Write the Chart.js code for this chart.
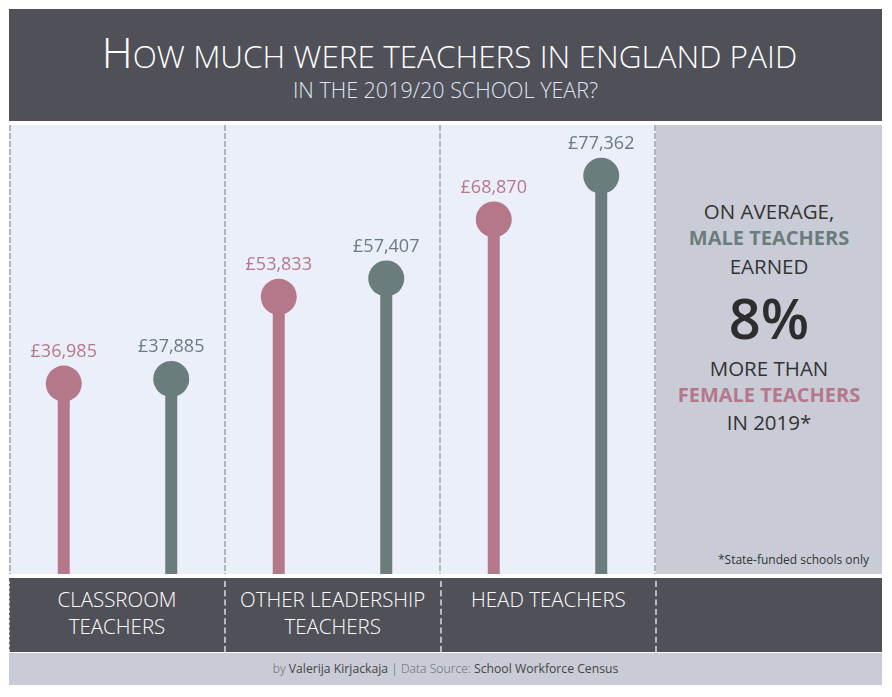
<!DOCTYPE html>
<html>
<head>
  <meta charset="utf-8">
  <title>Teachers pay</title>
  <script src="https://cdn.jsdelivr.net/npm/chart.js@4.4.0/dist/chart.umd.min.js"></script>
  <style>
    body { margin: 0; background: #fff; width: 892px; height: 697px; position: relative; overflow: hidden; }
    .light { font-family: "Open Sans", sans-serif; font-weight: 300; }
    #header { position: absolute; left: 9px; top: 9px; width: 873px; height: 112px; background: #505058; text-align: center; }
    #title { position: absolute; left: 8px; right: 0; top: 21px; color: #fff; font-size: 31.5px; line-height: 44px; }
    #title .big { font-size: 43px; }
    #subtitle { position: absolute; left: 0; right: 0; top: 67px; color: #dfe7f6; font-size: 21.5px; line-height: 28px; }
    #plot { position: absolute; left: 9px; top: 125px; width: 647px; height: 449px; background: #ebeff9; }
    #panel { position: absolute; left: 656px; top: 125px; width: 226px; height: 449px; background: #c9ccd7; text-align: center; font-family: "Open Sans", sans-serif; color: #333; }
    #panel div { position: absolute; left: 0; right: 0; }
    #band { position: absolute; left: 9px; top: 578px; width: 873px; height: 74px; background: #505058; }
    .cat { position: absolute; top: 8px; width: 216px; text-align: center; color: #fff; font-size: 20.5px; line-height: 27px; }
    .sep { position: absolute; top: 3px; bottom: 0; border-left: 2px dashed #b8b8be; }
    #footer { position: absolute; left: 9px; top: 653px; width: 873px; height: 32px; background: #c9ccd7; text-align: center; color: #666; font-size: 12.2px; line-height: 32px; }
    #footer b { font-weight: 400; color: #444; }
  </style>
</head>
<body>
  <div id="header">
    <div id="title" class="light"><span class="big">H</span>OW MUCH WERE TEACHERS IN ENGLAND PAID</div>
    <div id="subtitle" class="light">IN THE 2019/20 SCHOOL YEAR?</div>
  </div>
  <div id="plot"><canvas id="payChart"></canvas></div>
  <div id="panel">
    <div style="top:72px;font-size:20.5px;">ON AVERAGE,</div>
    <div style="top:99px;font-size:20px;font-weight:700;color:#6b7c7d;">MALE TEACHERS</div>
    <div style="top:127px;font-size:20.5px;">EARNED</div>
    <div style="top:157px;font-size:56px;line-height:70px;font-weight:600;color:#2d2d2d;">8%</div>
    <div style="top:229px;font-size:20.5px;">MORE THAN</div>
    <div style="top:256px;font-size:20px;font-weight:700;color:#b5788a;">FEMALE TEACHERS</div>
    <div style="top:283px;font-size:20.5px;">IN 2019*</div>
    <div style="top:426px;font-size:12px;text-align:right;right:13px;">*State-funded schools only</div>
  </div>
  <div id="band" class="light">
    <div class="sep" style="left:0;border-left-width:1px;border-left-color:#c0c0c6;"></div>
    <div class="sep" style="left:215px;"></div>
    <div class="sep" style="left:431px;"></div>
    <div class="sep" style="left:646px;"></div>
  </div>
  <div id="footer" class="light">by <b>Valerija Kirjackaja</b> | Data Source: <b>School Workforce Census</b></div>

  <script>
    const categories = ['CLASSROOM|TEACHERS', 'OTHER LEADERSHIP|TEACHERS', 'HEAD TEACHERS'];
    const femalePay = [36985, 53833, 68870];
    const malePay = [37885, 57407, 77362];
    const femaleColor = '#b5788a';
    const maleColor = '#6b7c7d';

    // category labels in the dark band
    const band = document.getElementById('band');
    categories.forEach((c, i) => {
      const d = document.createElement('div');
      d.className = 'cat';
      d.style.left = (i * 215.7) + 'px';
      d.innerHTML = c.split('|').join('<br>');
      band.appendChild(d);
    });

    // six slots (female, male per category) for bars and dots
    const slots = [];
    const femaleSlots = [];
    const maleSlots = [];
    categories.forEach((c, i) => {
      slots.push(c + ' F', c + ' M');
      femaleSlots.push(femalePay[i], null);
      maleSlots.push(null, malePay[i]);
    });

    const fmt = v => '£' + v.toLocaleString('en-GB');

    const valueLabels = {
      id: 'valueLabels',
      afterDatasetsDraw(chart) {
        const ctx = chart.ctx;
        ctx.save();
        ctx.font = '500 18px "Open Sans", sans-serif';
        ctx.textAlign = 'center';
        ctx.textBaseline = 'middle';
        [0, 1].forEach(di => {
          const ds = chart.data.datasets[di];
          chart.getDatasetMeta(di).data.forEach((pt, i) => {
            if (ds.data[i] == null) return;
            ctx.fillStyle = ds.backgroundColor;
            ctx.fillText(fmt(ds.data[i]), pt.x, pt.y - 32);
          });
        });
        ctx.restore();
      }
    };

    const dot = (label, data, color) => ({
      type: 'line', label, data, xAxisID: 'x2', showLine: false,
      backgroundColor: color, pointBackgroundColor: color,
      pointBorderWidth: 0, pointRadius: 18, pointHoverRadius: 18
    });
    const stem = (label, data, color) => ({
      type: 'bar', label, data, xAxisID: 'x2', grouped: false,
      backgroundColor: color, maxBarThickness: 12
    });

    new Chart(document.getElementById('payChart'), {
      data: {
        labels: categories,
        datasets: [
          dot('Female', femaleSlots, femaleColor),
          dot('Male', maleSlots, maleColor),
          stem('Female', femaleSlots, femaleColor),
          stem('Male', maleSlots, maleColor)
        ]
      },
      options: {
        responsive: true,
        maintainAspectRatio: false,
        animation: false,
        layout: { padding: { left: 1, right: 1, top: 0, bottom: 0 }, autoPadding: false },
        plugins: { legend: { display: false }, tooltip: { enabled: false } },
        scales: {
          x: {
            offset: true,
            ticks: { display: false },
            grid: { offset: true, color: '#b4b4ba', lineWidth: 2, drawTicks: false },
            border: { display: false, dash: [6, 2] }
          },
          x2: {
            type: 'category',
            labels: slots,
            offset: true,
            display: false
          },
          y: {
            min: 0,
            max: 87200,
            display: false
          }
        }
      },
      plugins: [valueLabels]
    });
  </script>
</body>
</html>
